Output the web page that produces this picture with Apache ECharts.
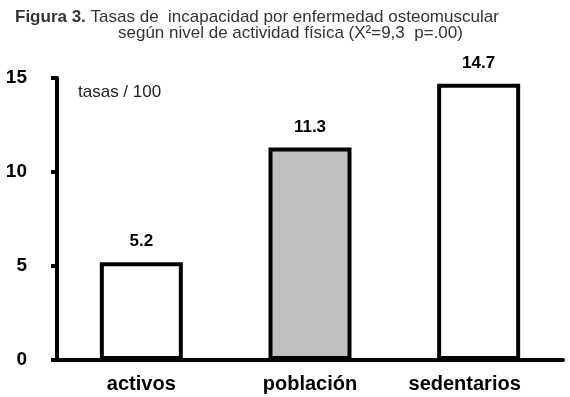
<!DOCTYPE html>
<html>
<head>
<meta charset="utf-8">
<script src="https://cdn.jsdelivr.net/npm/echarts@6/dist/echarts.min.js"></script>
<style>
  html, body { margin: 0; padding: 0; background: #fff; }
  #chart { width: 570px; height: 397px; }
</style>
</head>
<body>
<div id="chart"></div>
<script>
  // datos
  const categories = ['activos', 'población', 'sedentarios']
  const tasas = [5.2, 11.3, 14.7]
  const fills = ['#ffffff', '#c0c0c0', '#ffffff']
  const yTicks = [0, 5, 10, 15]

  const font = '"Liberation Sans", Arial, sans-serif'
  const chart = echarts.init(document.getElementById('chart'))

  chart.setOption({
    animation: false,
    backgroundColor: '#ffffff',
    grid: {
      left: 57,
      right: 7,
      top: 78,
      bottom: 37
    },
    graphic: [
      {
        type: 'text',
        left: 15,
        top: 9,
        style: {
          text: '{b|Figura 3.} Tasas de  incapacidad por enfermedad osteomuscular',
          fontFamily: font,
          fontSize: 17,
          fill: '#333',
          rich: {
            b: { fontWeight: 'bold', fontSize: 17, fontFamily: font, fill: '#333' }
          }
        }
      },
      {
        type: 'text',
        left: 118,
        top: 25,
        style: {
          text: 'según nivel de actividad física (X²=9,3  p=.00)',
          fontFamily: font,
          fontSize: 17,
          fill: '#333'
        }
      },
      {
        type: 'text',
        left: 78,
        top: 84,
        style: {
          text: 'tasas / 100',
          fontFamily: font,
          fontSize: 17,
          fill: '#222'
        }
      }
    ],
    xAxis: {
      type: 'category',
      data: categories.map((c, i) => i === 2
        ? { value: c, textStyle: { padding: [0, 28, 0, 0] } }
        : c),
      axisLine: {
        lineStyle: { color: '#000', width: 4 }
      },
      axisTick: { show: false },
      axisLabel: {
        margin: 14,
        color: '#000',
        fontFamily: font,
        fontWeight: 'bold',
        fontSize: 20
      }
    },
    yAxis: {
      type: 'value',
      min: yTicks[0],
      max: yTicks[yTicks.length - 1],
      interval: yTicks[1] - yTicks[0],
      axisLine: {
        show: true,
        lineStyle: { color: '#000', width: 4 }
      },
      axisTick: {
        show: true,
        length: 6,
        lineStyle: { color: '#000', width: 4 }
      },
      splitLine: { show: false },
      axisLabel: {
        margin: 30,
        color: '#000',
        fontFamily: font,
        fontWeight: 'bold',
        fontSize: 19
      }
    },
    series: [{
      type: 'bar',
      barWidth: 83,
      data: tasas.map((v, i) => ({
        value: v,
        itemStyle: { color: fills[i] }
      })),
      itemStyle: {
        borderColor: '#000',
        borderWidth: 4
      },
      label: {
        show: true,
        position: 'top',
        distance: 12,
        color: '#000',
        fontFamily: font,
        fontWeight: 'bold',
        fontSize: 17,
        formatter: p => p.value.toFixed(1)
      }
    }]
  })
</script>
</body>
</html>
